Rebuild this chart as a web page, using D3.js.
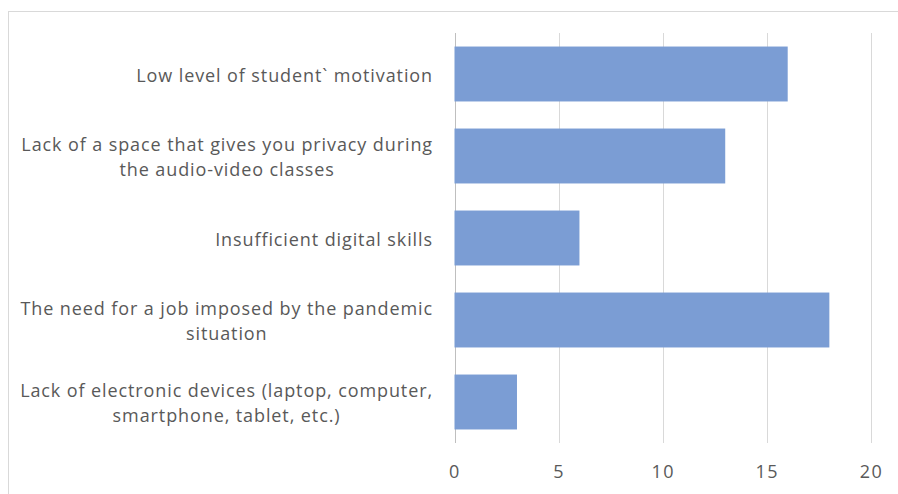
<!DOCTYPE html>
<html>
<head>
<meta charset="utf-8">
<script src="https://cdn.jsdelivr.net/npm/d3@7"></script>
<style>
  html, body { margin: 0; padding: 0; background: #fff; }
  svg { display: block; }
</style>
</head>
<body>
<svg id="chart" width="898" height="494"></svg>
<script>
// Reasons for difficulties in online classes (count of answers)
const categories = [
  "Low level of student` motivation",
  "Lack of a space that gives you privacy during\nthe audio-video classes",
  "Insufficient digital skills",
  "The need for a job imposed by the pandemic\nsituation",
  "Lack of electronic devices (laptop, computer,\nsmartphone, tablet, etc.)"
];
const values = [16, 13, 6, 18, 3];
const xTicks = [0, 5, 10, 15, 20];

const svg = d3.select("#chart");
const font = "'Open Sans', sans-serif";
const textColor = "#595959";

// chart frame
svg.append("rect")
  .attr("x", 8.5).attr("y", 11.5)
  .attr("width", 920).attr("height", 520)
  .attr("fill", "#fff")
  .attr("stroke", "#d9d9d9").attr("stroke-width", 1);

const plot = { left: 454.5, right: 871, top: 33, bottom: 443 };

const x = d3.scaleLinear().domain([0, 20]).range([plot.left, plot.right]);
const y = d3.scaleBand().domain(categories)
  .range([plot.top, plot.bottom]).paddingInner(0.33).paddingOuter(0.165);

// vertical gridlines
svg.append("g")
  .selectAll("line")
  .data(xTicks)
  .join("line")
  .attr("x1", d => Math.round(x(d)) + 0.5)
  .attr("x2", d => Math.round(x(d)) + 0.5)
  .attr("y1", plot.top).attr("y2", plot.bottom)
  .attr("stroke", d => d === 0 ? "#bfbfbf" : "#d9d9d9")
  .attr("stroke-width", 1);

// bars
svg.append("g")
  .selectAll("rect")
  .data(categories)
  .join("rect")
  .attr("x", x(0))
  .attr("y", d => y(d))
  .attr("width", (d, i) => x(values[i]) - x(0))
  .attr("height", y.bandwidth())
  .attr("fill", "#7b9dd4");

// x-axis tick labels
const xAxis = d3.axisBottom(x).tickValues(xTicks).tickSize(0).tickPadding(0);
const gx = svg.append("g").attr("transform", `translate(0, ${plot.bottom + 22})`).call(xAxis);
gx.select(".domain").remove();
gx.selectAll("text")
  .attr("font-family", font).attr("font-size", 18)
  .attr("letter-spacing", 1.5)
  .attr("fill", textColor).attr("dy", "0.71em");

// category labels: block right-aligned, lines centered within block
const labelRight = 433;
const lineH = 25;
const labels = svg.append("g");
categories.forEach((c, i) => {
  const lines = c.split("\n");
  const cy = y(c) + y.bandwidth() / 2;
  const t = labels.append("text")
    .attr("font-family", font).attr("font-size", 18)
    .attr("letter-spacing", 0.9)
    .attr("fill", textColor).attr("text-anchor", "middle");
  const spans = lines.map((ln, k) => t.append("tspan")
    .attr("y", cy + (k - (lines.length - 1) / 2) * lineH)
    .attr("dy", "0.42em")
    .text(ln));
  const maxW = d3.max(spans, s => s.node().getComputedTextLength());
  spans.forEach(s => s.attr("x", labelRight - maxW / 2));
});
</script>
</body>
</html>
